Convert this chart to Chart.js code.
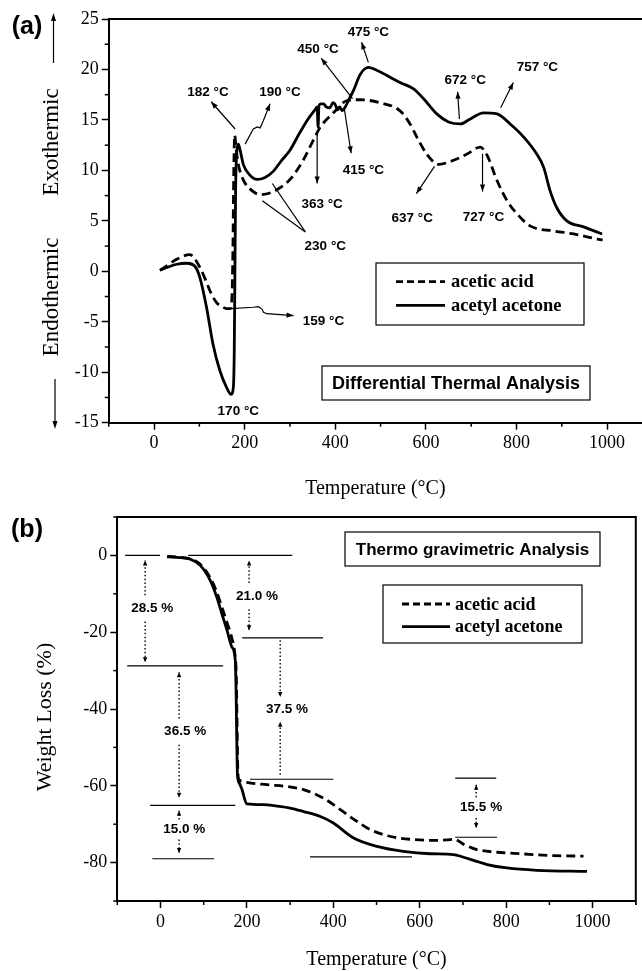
<!DOCTYPE html>
<html>
<head>
<meta charset="utf-8">
<script src="https://cdn.jsdelivr.net/npm/chart.js@4/dist/chart.umd.min.js"></script>
<style>
  html, body { margin: 0; padding: 0; background: #fff; overflow: hidden; }
  #wrap { position: relative; width: 642px; height: 971px; }
  #dta { position: absolute; left: 0; top: 0; }
  #tga { position: absolute; left: 0; top: 500px; }
</style>
</head>
<body>
<div id="wrap">
  <canvas id="dta" width="642" height="510"></canvas>
  <canvas id="tga" width="642" height="471"></canvas>
</div>
<script>
// --- data ---
const seriesNames = ["acetic acid", "acetyl acetone"];

// (a) DTA, temperature (°C) / signal
const dtaAceticT = [13, 30, 50, 79, 101, 115, 123, 138, 150, 160, 168, 172, 174, 176, 178, 181, 186, 192, 200, 211,
  234, 263, 300, 329, 355, 367, 396, 425, 455, 499, 543, 565, 580, 602, 628, 661, 690, 720, 735, 757,
  779, 801, 830, 882, 926, 978, 990];
const dtaAceticV = [0.1, 0.6, 1.2, 1.65, 0.4, -1.0, -1.9, -3.1, -3.5, -3.7, -3.7, -2.5, 2, 10, 13.5, 12.2, 10.6, 9.6, 8.8, 8.2,
  7.6, 7.9, 9.1, 11.0, 13.3, 14.3, 15.7, 16.9, 17.0, 16.7, 15.9, 14.6, 13.3, 11.6, 10.6, 11.0, 11.6, 12.3, 11.5, 9.0,
  7.0, 5.7, 4.5, 4.0, 3.7, 3.2, 3.1];
const dtaAcacT = [13, 30, 50, 72, 90, 101, 116, 130, 145, 160, 170, 175, 177, 178.5, 180, 183, 186, 190, 197, 210,
  228, 245, 263, 280, 300, 320, 340, 355, 360, 362, 364, 368, 374, 380, 388, 395, 399, 405, 410, 415,
  421, 430, 440, 455, 473, 488, 514, 543, 572, 595, 624, 650, 676, 698, 727, 757, 786, 816, 845, 860,
  874, 889, 911, 948, 989];
const dtaAcacV = [0.1, 0.4, 0.7, 0.8, 0.5, -0.6, -3.6, -7.2, -9.8, -11.5, -12.2, -11.5, -8, 0, 8, 12.0, 12.6, 12.0, 10.6, 9.6,
  9.1, 9.3, 9.9, 10.9, 12.0, 13.6, 15.1, 16.0, 16.3, 14.3, 16.4, 16.6, 16.6, 16.3, 16.2, 16.7, 16.6, 16.0, 16.3, 15.9,
  16.2, 17.0, 17.9, 19.5, 20.2, 20.0, 19.4, 18.7, 18.1, 17.1, 15.6, 14.8, 14.6, 15.1, 15.7, 15.6, 14.6, 13.3, 11.6, 10.3,
  8.0, 6.3, 5.0, 4.4, 3.7];

// (b) TGA, temperature (°C) / weight loss (%)
const tgaAceticT = [15, 46, 69, 92, 115, 130, 142, 154, 165, 172, 175, 177, 178.5, 181, 190, 200, 246, 300, 331, 377,
  416, 455, 485, 532, 586, 624, 663, 680, 701, 732, 779, 833, 910, 979];
const tgaAceticW = [-0.3, -0.5, -0.9, -2.3, -5.8, -9.5, -13.5, -17.5, -21.5, -25.5, -30, -42, -54, -58.3, -58.8, -59.1, -59.7, -60.3, -61.0, -63.2,
  -66.2, -69.3, -71.4, -73.2, -74.0, -74.2, -74.1, -73.9, -75.2, -76.6, -77.3, -77.7, -78.2, -78.3];
const tgaAcacT = [15, 46, 69, 92, 115, 130, 142, 154, 165, 173, 175, 176.5, 178, 182, 188, 200, 238, 270, 300, 331,
  370, 400, 447, 501, 562, 624, 678, 701, 730, 756, 802, 871, 987];
const tgaAcacW = [-0.3, -0.6, -1.0, -2.6, -6.5, -10.8, -15.2, -19.5, -23.8, -27.3, -36, -48, -57, -59.2, -60.8, -64.7, -64.9, -65.3, -65.8, -66.7,
  -68.0, -69.7, -73.6, -75.8, -77.1, -77.7, -77.9, -78.6, -79.6, -80.5, -81.4, -82.0, -82.3];

// tick labels
const tempTicks = [0, 200, 400, 600, 800, 1000];
const dtaYTicks = [-15, -10, -5, 0, 5, 10, 15, 20, 25];
const tgaYTicks = [-80, -60, -40, -20, 0];

// peak labels of (a): text, label position, arrow path (data units), arrow head
const dtaNotes = [
  { text: "182 °C", at: [119, 17.7], path: [[179, 14.1], [126, 16.8]], head: true },
  { text: "190 °C", at: [278, 17.7], path: [[201, 12.6], [219, 14.1], [228, 14.3], [234, 14.2], [238, 14.6], [241, 14.9], [256, 16.6]], head: true },
  { text: "450 °C", at: [362, 22.0], path: [[438, 17.1], [369, 21.1]], head: true },
  { text: "475 °C", at: [473, 23.7], path: [[473, 20.7], [458, 22.7]], head: true },
  { text: "415 °C", at: [462, 10.0], path: [[420, 16.1], [435, 11.7]], head: true },
  { text: "363 °C", at: [371, 6.6], path: [[360, 13.6], [360, 8.7]], head: true },
  { text: "230 °C", at: [378, 2.45], path: [[334, 3.9], [239, 7.0]], head: false },
  { text: "", at: null, path: [[334, 3.9], [261, 8.7]], head: false },
  { text: "159 °C", at: [374, -4.95], path: [[161, -3.72], [219, -3.56], [230, -3.5], [238, -3.72], [241.5, -4.06], [249, -4.2], [308, -4.39]], head: true },
  { text: "170 °C", at: [186, -13.9], path: null },
  { text: "637 °C", at: [570, 5.3], path: [[619, 10.4], [579, 7.7]], head: true },
  { text: "727 °C", at: [727, 5.4], path: [[725, 11.65], [725, 7.9]], head: true },
  { text: "672 °C", at: [687, 18.9], path: [[674, 15.1], [670, 17.8]], head: true },
  { text: "757 °C", at: [846, 20.2], path: [[765, 16.2], [793, 18.7]], head: true }
];

// step guides of (b): horizontal lines [t0, t1, w]
const tgaLevels = [[-82, -1, 0], [64, 305, 0], [-77, 145, -28.75], [189, 376, -21.5], [207, 400, -58.3],
  [-24, 173, -65.1], [-19, 124, -79.0], [346, 582, -78.5], [682, 777, -58.0], [682, 779, -73.4]];
// dotted arrows of (b): label, label position, segments [t, wFrom, wTo] with head at wTo
const tgaSteps = [
  { text: "28.5 %", at: [-19, -13.8], segs: [[-35.6, -10.4, -1.3], [-35.6, -17.2, -27.8]] },
  { text: "21.0 %", at: [223.5, -10.6], segs: [[205, -7.2, -1.3], [205, -14.0, -19.5]] },
  { text: "36.5 %", at: [57, -45.9], segs: [[43, -42.5, -30.4], [43, -49.3, -63.1]] },
  { text: "37.5 %", at: [293, -40], segs: [[277, -22.1, -36.9], [277, -57.1, -43.3]] },
  { text: "15.0 %", at: [55, -71.4], segs: [[43, -68.8, -66.5], [43, -74.0, -77.5]] },
  { text: "15.5 %", at: [742, -65.7], segs: [[730.6, -63.0, -59.7], [730.6, -68.4, -71.0]] }
];

// --- helpers ---
const black = "#000";
const serif = "'Liberation Serif', 'Times New Roman', Times, serif";
const sans = "'Liberation Sans', Arial, Helvetica, sans-serif";

function xy(ts, vs) {
  return ts.map((t, i) => ({ x: t, y: vs[i] }));
}

function lineSet(label, ts, vs, dashed) {
  return {
    label,
    data: xy(ts, vs),
    borderColor: black,
    borderWidth: 2.8,
    borderDash: dashed ? [9, 5] : [],
    pointRadius: 0,
    fill: false,
    cubicInterpolationMode: "monotone"
  };
}

function scaleOpts(min, max, from, to, step, majors, horizontal, size, title) {
  const all = [];
  for (let v = from; v <= to + 1e-9; v += step) all.push(Math.round(v * 100) / 100);
  return {
    type: "linear",
    min, max,
    afterBuildTicks: s => { s.ticks = all.map(v => ({ value: v })); },
    afterFit: s => { if (horizontal) s.height = size; else s.width = size; },
    ticks: {
      autoSkip: false, maxRotation: 0, padding: 3, color: black,
      font: { family: serif, size: 18 },
      callback: v => (majors.includes(v) ? String(v) : "")
    },
    grid: {
      drawOnChartArea: false, tickLength: 7, tickWidth: 1.5,
      tickColor: c => (c.tick && majors.includes(c.tick.value) ? black : "rgba(0,0,0,0)")
    },
    border: { display: true, color: black, width: 2 },
    title: title || { display: false }
  };
}

function tempTitle(bottomPad) {
  return {
    display: true, text: "Temperature (°C)", color: black,
    font: { family: serif, size: 20, lineHeight: 1 },
    padding: { top: 0, bottom: bottomPad }
  };
}

function line(ctx, x0, y0, x1, y1) {
  ctx.beginPath(); ctx.moveTo(x0, y0); ctx.lineTo(x1, y1); ctx.stroke();
}

function arrowHead(ctx, x0, y0, x1, y1, len, half) {
  const a = Math.atan2(y1 - y0, x1 - x0);
  const c = Math.cos(a), s = Math.sin(a);
  ctx.beginPath();
  ctx.moveTo(x1, y1);
  ctx.lineTo(x1 - len * c + half * s, y1 - len * s - half * c);
  ctx.lineTo(x1 - len * c - half * s, y1 - len * s + half * c);
  ctx.closePath();
  ctx.fill();
}

function vText(ctx, text, x, y, font) {
  ctx.save();
  ctx.translate(x, y);
  ctx.rotate(-Math.PI / 2);
  ctx.font = font;
  ctx.textAlign = "center";
  ctx.textBaseline = "middle";
  ctx.fillText(text, 0, 0);
  ctx.restore();
}

// minor ticks (shorter than the major ones drawn by Chart.js)
function minorTicks(chart, xMajors, yMajors) {
  const { ctx, chartArea: a } = chart;
  const sx = chart.scales.x, sy = chart.scales.y;
  ctx.lineWidth = 1.5;
  sx.ticks.forEach(t => {
    if (xMajors.includes(t.value)) return;
    const x = sx.getPixelForValue(t.value);
    line(ctx, x, a.bottom, x, a.bottom + 4);
  });
  sy.ticks.forEach(t => {
    if (yMajors.includes(t.value)) return;
    const y = sy.getPixelForValue(t.value);
    line(ctx, a.left, y, a.left - 4, y);
  });
}

function legendBox(ctx, chart, box, rows, sx0, sx1, tx, font) {
  ctx.lineWidth = 1.2;
  ctx.strokeRect(box[0], box[1], box[2] - box[0], box[3] - box[1]);
  ctx.font = font;
  ctx.textAlign = "left";
  ctx.textBaseline = "middle";
  chart.data.datasets.forEach((ds, i) => {
    ctx.lineWidth = 2.8;
    ctx.setLineDash(ds.borderDash.length ? [7, 4] : []);
    line(ctx, sx0, rows[i], sx1, rows[i]);
    ctx.setLineDash([]);
    ctx.fillText(ds.label, tx, rows[i] + 1);
  });
}

function titleBox(ctx, box, text, font) {
  ctx.lineWidth = 1.2;
  ctx.strokeRect(box[0], box[1], box[2] - box[0], box[3] - box[1]);
  ctx.font = font;
  ctx.textAlign = "center";
  ctx.textBaseline = "middle";
  ctx.fillText(text, (box[0] + box[2]) / 2, (box[1] + box[3]) / 2 + 1);
}

// --- (a) DTA ---
const dtaDecor = {
  id: "dtaDecor",
  afterDraw(chart) {
    const { ctx, chartArea: a } = chart;
    const sx = chart.scales.x, sy = chart.scales.y;
    const P = p => [sx.getPixelForValue(p[0]), sy.getPixelForValue(p[1])];
    ctx.save();
    ctx.strokeStyle = black;
    ctx.fillStyle = black;

    // top frame line (no right border in the figure)
    ctx.lineWidth = 2;
    line(ctx, a.left - 1, a.top, a.right, a.top);
    minorTicks(chart, tempTicks, dtaYTicks);

    // peak labels with arrows
    ctx.font = "bold 13.5px " + sans;
    ctx.textAlign = "center";
    ctx.textBaseline = "middle";
    dtaNotes.forEach(n => {
      if (n.at && n.text) {
        const p = P(n.at);
        ctx.fillText(n.text, p[0], p[1]);
      }
      if (n.path) {
        const pts = n.path.map(P);
        ctx.lineWidth = 1.2;
        ctx.beginPath();
        pts.forEach((p, i) => (i ? ctx.lineTo(p[0], p[1]) : ctx.moveTo(p[0], p[1])));
        ctx.stroke();
        if (n.head) {
          const k = pts.length;
          arrowHead(ctx, pts[k - 2][0], pts[k - 2][1], pts[k - 1][0], pts[k - 1][1], 7, 2.6);
        }
      }
    });

    // side labels
    vText(ctx, "Exothermic", 52, 142, "23px " + serif);
    vText(ctx, "Endothermic", 52, 297, "23px " + serif);
    ctx.lineWidth = 1.2;
    line(ctx, 53.5, 63, 53.5, 20);
    arrowHead(ctx, 53.5, 63, 53.5, 13, 8, 2.5);
    line(ctx, 55, 379, 55, 422);
    arrowHead(ctx, 55, 379, 55, 429, 8, 2.5);

    ctx.font = "bold 25px " + sans;
    ctx.textAlign = "center";
    ctx.textBaseline = "middle";
    ctx.fillText("(a)", 27, 27);

    legendBox(ctx, chart, [376, 263, 584, 325], [281.7, 305.3], 396, 445, 451, "bold 18.5px " + serif);
    titleBox(ctx, [322, 366, 590, 400], "Differential Thermal Analysis", "bold 18px " + sans);
    ctx.restore();
  }
};

new Chart(document.getElementById("dta"), {
  type: "line",
  data: {
    datasets: [
      lineSet(seriesNames[0], dtaAceticT, dtaAceticV, true),
      lineSet(seriesNames[1], dtaAcacT, dtaAcacV, false)
    ]
  },
  options: {
    responsive: false,
    animation: false,
    layout: { padding: { left: 0, top: 19, right: 0, bottom: 0 } },
    plugins: { legend: { display: false }, tooltip: { enabled: false } },
    scales: {
      x: scaleOpts(-100, 1077, -100, 1000, 100, tempTicks, true, 510 - 422.7, tempTitle(11)),
      y: scaleOpts(-15, 25, -15, 25, 2.5, dtaYTicks, false, 108.75)
    }
  },
  plugins: [dtaDecor]
});

// --- (b) TGA ---
const tgaDecor = {
  id: "tgaDecor",
  afterDraw(chart) {
    const { ctx, chartArea: a } = chart;
    const sx = chart.scales.x, sy = chart.scales.y;
    const P = p => [sx.getPixelForValue(p[0]), sy.getPixelForValue(p[1])];
    ctx.save();
    ctx.strokeStyle = black;
    ctx.fillStyle = black;

    // closed frame
    ctx.lineWidth = 2;
    line(ctx, a.left - 1, a.top, a.right + 1, a.top);
    line(ctx, a.right, a.top, a.right, a.bottom);
    minorTicks(chart, tempTicks, tgaYTicks);
    ctx.lineWidth = 1.5;
    line(ctx, a.right, a.bottom, a.right, a.bottom + 4);

    // step guide lines
    ctx.lineWidth = 1.2;
    tgaLevels.forEach(l => {
      const p0 = P([l[0], l[2]]), p1 = P([l[1], l[2]]);
      line(ctx, p0[0], p0[1], p1[0], p1[1]);
    });

    // dotted arrows with percentages
    ctx.font = "bold 13.5px " + sans;
    ctx.textAlign = "center";
    ctx.textBaseline = "middle";
    tgaSteps.forEach(s => {
      const p = P(s.at);
      ctx.fillText(s.text, p[0], p[1]);
      s.segs.forEach(g => {
        const p0 = P([g[0], g[1]]), p1 = P([g[0], g[2]]);
        ctx.lineWidth = 1.4;
        ctx.setLineDash([1.5, 2.3]);
        line(ctx, p0[0], p0[1], p1[0], p1[1]);
        ctx.setLineDash([]);
        arrowHead(ctx, p0[0], p0[1], p1[0], p1[1], 5, 2.2);
      });
    });

    vText(ctx, "Weight Loss (%)", 45, 217, "22px " + serif);

    ctx.font = "bold 25px " + sans;
    ctx.textAlign = "center";
    ctx.textBaseline = "middle";
    ctx.fillText("(b)", 27, 30);

    titleBox(ctx, [345, 32, 600, 66], "Thermo gravimetric Analysis", "bold 17px " + sans);
    legendBox(ctx, chart, [383, 85, 582, 143], [104, 126.7], 402, 450, 455, "bold 18px " + serif);
    ctx.restore();
  }
};

new Chart(document.getElementById("tga"), {
  type: "line",
  data: {
    datasets: [
      lineSet(seriesNames[0], tgaAceticT, tgaAceticW, true),
      lineSet(seriesNames[1], tgaAcacT, tgaAcacW, false)
    ]
  },
  options: {
    responsive: false,
    animation: false,
    layout: { padding: { left: 0, top: 17, right: 6.2, bottom: 0 } },
    plugins: { legend: { display: false }, tooltip: { enabled: false } },
    scales: {
      x: scaleOpts(-100, 1100, -100, 1100, 100, tempTicks, true, 471 - 401, tempTitle(1)),
      y: scaleOpts(-90, 10, -90, 10, 10, tgaYTicks, false, 117.3)
    }
  },
  plugins: [tgaDecor]
});
</script>
</body>
</html>
